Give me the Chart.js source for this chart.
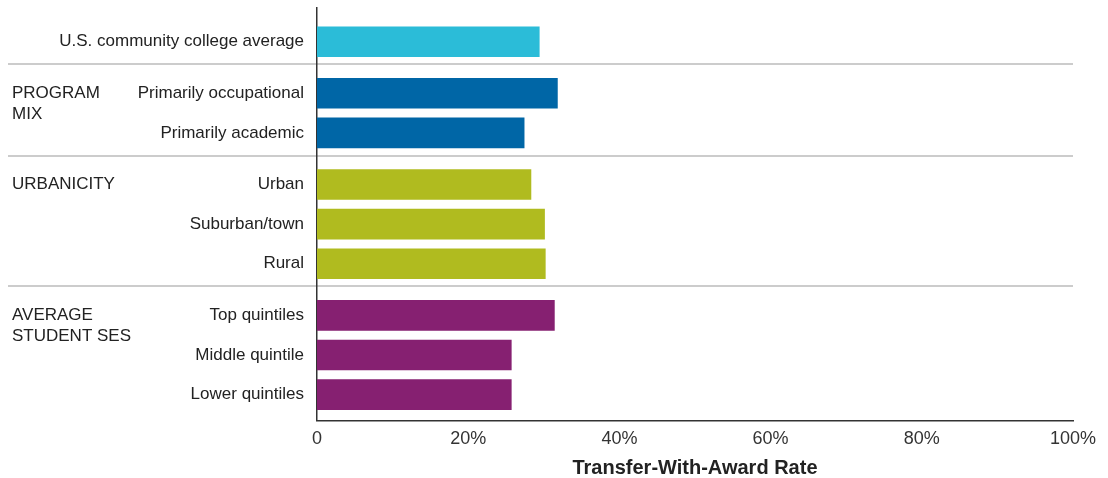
<!DOCTYPE html>
<html lang="en">
<head>
    <meta charset="UTF-8">
    <title>Transfer-With-Award Rate</title>
    <script src="https://cdn.jsdelivr.net/npm/chart.js"></script>
    <style>
        body {
            margin: 0;
            background: #fff;
        }
        .chart-box {
            width: 1108px;
            height: 478px;
            position: relative;
        }
    </style>
</head>
<body>
    <div class="chart-box">
        <canvas id="rateChart"></canvas>
    </div>

    <script>
        // Data
        const categories = [
            'U.S. community college average',
            'Primarily occupational',
            'Primarily academic',
            'Urban',
            'Suburban/town',
            'Rural',
            'Top quintiles',
            'Middle quintile',
            'Lower quintiles'
        ];
        const groupOf = [0, 1, 1, 2, 2, 2, 3, 3, 3];
        const groupNames = [[], ['PROGRAM', 'MIX'], ['URBANICITY'], ['AVERAGE', 'STUDENT SES']];
        const groupColors = ['#2bbcd8', '#0066a6', '#b0bb1f', '#862071'];
        const rates = [29.4, 31.8, 27.4, 28.3, 30.1, 30.2, 31.4, 25.7, 25.7];
        const xTicks = [0, 20, 40, 60, 80, 100];

        const FONT = "'Helvetica Neue', Helvetica, Arial, 'Liberation Sans', sans-serif";

        // row slot for each bar, with a bit of extra space between groups
        const rowPos = categories.map((c, i) => i + groupOf[i] * 0.3);

        // separators and group headings drawn on the left
        const groupPlugin = {
            id: 'groups',
            beforeDraw(chart) {
                const ctx = chart.ctx;
                const ys = chart.scales.y;
                const area = chart.chartArea;
                ctx.save();
                ctx.strokeStyle = '#cccccc';
                ctx.lineWidth = 2;
                for (let i = 1; i < categories.length; i++) {
                    if (groupOf[i] !== groupOf[i - 1]) {
                        const y = Math.round(ys.getPixelForValue((rowPos[i] + rowPos[i - 1]) / 2 - 0.08));
                        ctx.beginPath();
                        ctx.moveTo(8, y);
                        ctx.lineTo(area.right, y);
                        ctx.stroke();
                    }
                }
                ctx.fillStyle = '#222';
                ctx.font = '17px ' + FONT;
                ctx.textBaseline = 'middle';
                ctx.textAlign = 'left';
                groupNames.forEach((lines, g) => {
                    const first = groupOf.indexOf(g);
                    const y0 = ys.getPixelForValue(rowPos[first]);
                    lines.forEach((txt, k) => ctx.fillText(txt, 12, y0 + k * 21));
                });
                ctx.restore();
            }
        };

        new Chart(document.getElementById('rateChart'), {
            type: 'bar',
            data: {
                datasets: [{
                    data: rates.map((v, i) => ({ x: v, y: rowPos[i] })),
                    backgroundColor: groupOf.map(g => groupColors[g]),
                    barThickness: 30
                }]
            },
            options: {
                indexAxis: 'y',
                responsive: true,
                maintainAspectRatio: false,
                animation: false,
                layout: {
                    padding: { top: 8, right: 35, bottom: 0, left: 0 }
                },
                plugins: {
                    legend: { display: false },
                    tooltip: { enabled: false }
                },
                scales: {
                    y: {
                        type: 'linear',
                        reverse: true,
                        offset: false,
                        min: -0.85,
                        max: 9.55,
                        afterBuildTicks: scale => {
                            scale.ticks = rowPos.map(v => ({ value: v }));
                        },
                        afterFit: scale => {
                            scale.width = 317;
                            scale.paddingTop = 0;
                            scale.paddingBottom = 0;
                        },
                        grid: { display: false, drawTicks: false },
                        border: { display: true, color: '#333', width: 1.5 },
                        ticks: {
                            padding: 13,
                            color: '#222',
                            font: { family: FONT, size: 17 },
                            callback: (v, i) => categories[i]
                        }
                    },
                    x: {
                        min: 0,
                        max: 100,
                        afterBuildTicks: scale => {
                            scale.ticks = xTicks.map(v => ({ value: v }));
                        },
                        grid: { display: false, drawTicks: false },
                        border: { display: true, color: '#333', width: 1.5 },
                        ticks: {
                            padding: 8,
                            color: '#333',
                            maxRotation: 0,
                            font: { family: FONT, size: 18 },
                            callback: v => v === 0 ? '0' : v + '%'
                        },
                        title: {
                            display: true,
                            text: 'Transfer-With-Award Rate',
                            color: '#222',
                            padding: { top: 0, bottom: 0 },
                            font: { family: FONT, size: 20, weight: 'bold', lineHeight: 1 }
                        }
                    }
                }
            },
            plugins: [groupPlugin]
        });
    </script>
</body>
</html>
